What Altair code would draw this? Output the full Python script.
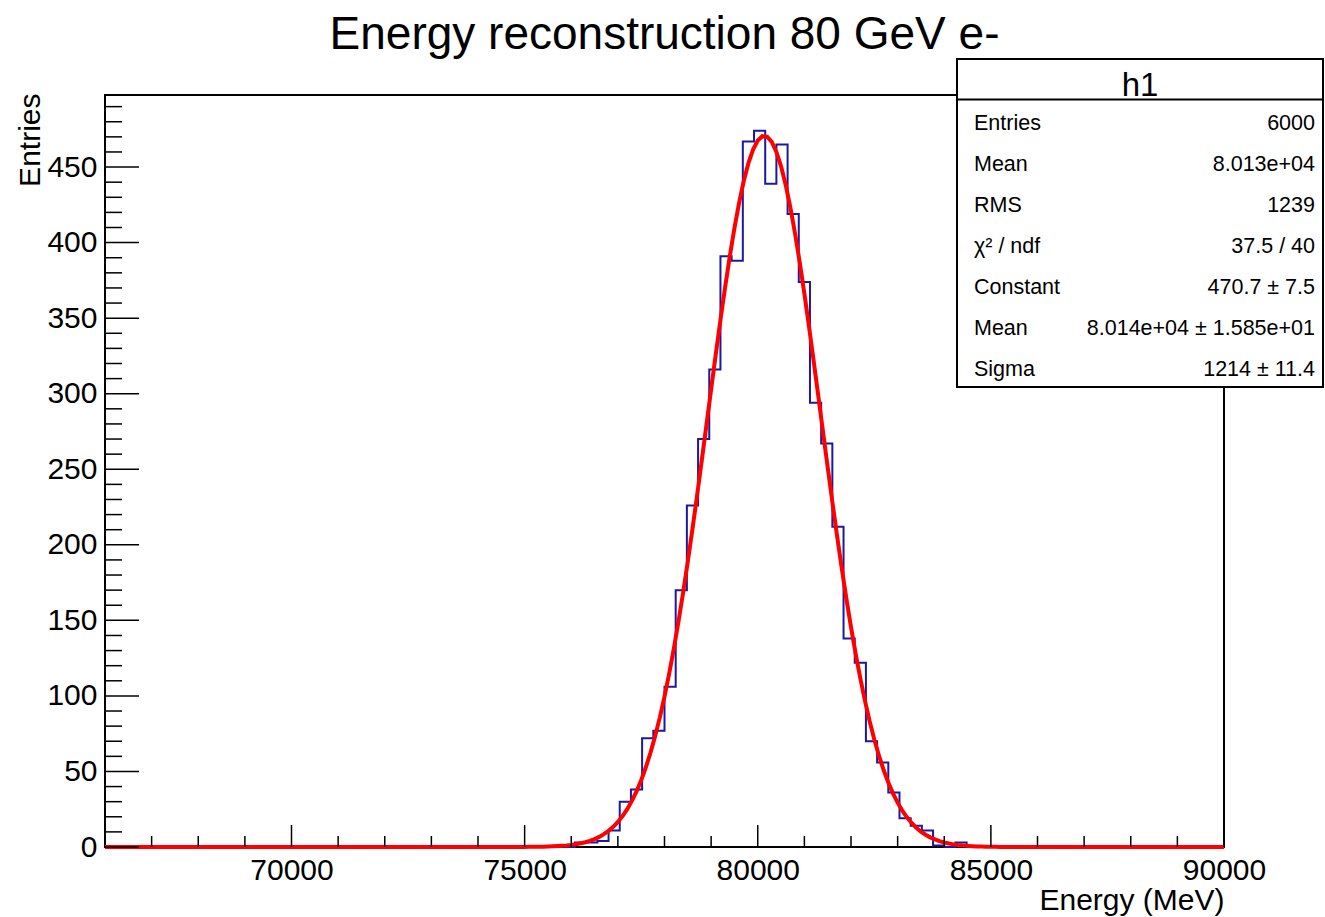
import altair as alt
import numpy as np
import pandas as pd

# ---------------- data ----------------
x_min, x_max = 66000, 90000          # axis range (MeV)
bin_width = 240                      # 100 bins over the range
first_bin_left = 76080               # left edge of first non-empty bin
counts = [3, 3, 4, 11, 30, 38, 72, 77, 106, 170, 226, 270, 316, 391, 388,
          467, 474, 439, 465, 419, 374, 294, 267, 212, 138, 122, 70, 56,
          36, 19, 14, 11, 1, 0, 3]
y_max = 497.7

# Gaussian fit parameters shown in the stats box
fit_constant = 470.7
fit_mean = 80140.0
fit_sigma = 1214.0

stat_labels = ["Entries", "Mean", "RMS", "χ² / ndf", "Constant", "Mean", "Sigma"]
stat_values = ["6000", "8.013e+04", "1239", "37.5 / 40", "470.7 ± 7.5",
               "8.014e+04 ± 1.585e+01", "1214 ± 11.4"]

y_major = [0, 50, 100, 150, 200, 250, 300, 350, 400, 450]
y_minor = [v for v in range(10, 500, 10) if v % 50 != 0]
x_major = [70000, 75000, 80000, 85000, 90000]
x_minor = [v for v in range(67000, 90000, 1000) if v % 5000 != 0]

title_text = "Energy reconstruction 80 GeV e-"
x_title = "Energy (MeV)"
y_title = "Entries"

# ---------------- build tables ----------------
n_bins = (x_max - x_min) // bin_width
n_before = (first_bin_left - x_min) // bin_width
full = [0] * n_before + counts + [0] * (n_bins - n_before - len(counts))
edges = [x_min + i * bin_width for i in range(n_bins + 1)]
hist_df = pd.DataFrame({"energy": edges, "entries": full + [full[-1]]})

fit_x = np.linspace(x_min, x_max, 241)
fit_df = pd.DataFrame({
    "energy": fit_x,
    "entries": fit_constant * np.exp(-0.5 * ((fit_x - fit_mean) / fit_sigma) ** 2),
})

W, H = 1119, 752
FONT = "Liberation Sans"

xscale = alt.Scale(domain=[x_min, x_max], nice=False, zero=False)
yscale = alt.Scale(domain=[0, y_max], nice=False, zero=True)

hist = alt.Chart(hist_df).mark_line(
    interpolate="step-after", color="#1a1aa0", strokeWidth=2
).encode(
    x=alt.X("energy:Q", scale=xscale, axis=alt.Axis(
        values=x_major, format="d", ticks=False, domain=False, grid=False,
        labelFont=FONT, labelFontSize=30, labelColor="black", labelPadding=8,
        labelFlush=False, labelOverlap=False,
        title=x_title, titleFont=FONT, titleFontSize=30, titleFontWeight="normal",
        titleColor="black", titleAlign="right", titleBaseline="alphabetic",
        titleX=W, titleY=62)),
    y=alt.Y("entries:Q", scale=yscale, axis=alt.Axis(
        values=y_major, format="d", ticks=False, domain=False, grid=False,
        labelFont=FONT, labelFontSize=30, labelColor="black", labelPadding=8,
        labelOverlap=False, labelFlush=False,
        title=y_title, titleFont=FONT, titleFontSize=30, titleFontWeight="normal",
        titleColor="black", titleAngle=270, titleAlign="right",
        titleBaseline="alphabetic", titleX=-66, titleY=-2)),
)

fit = alt.Chart(fit_df).mark_line(color="#ff0000", strokeWidth=4).encode(
    x=alt.X("energy:Q", scale=xscale),
    y=alt.Y("entries:Q", scale=yscale),
)

tick_style = dict(color="black", strokeWidth=1.5)
y_major_ticks = alt.Chart(pd.DataFrame({"v": y_major})).mark_rule(**tick_style).encode(
    y=alt.Y("v:Q", scale=yscale), x=alt.value(0), x2=alt.value(34))
y_minor_ticks = alt.Chart(pd.DataFrame({"v": y_minor})).mark_rule(**tick_style).encode(
    y=alt.Y("v:Q", scale=yscale), x=alt.value(0), x2=alt.value(17))
x_major_ticks = alt.Chart(pd.DataFrame({"v": x_major})).mark_rule(**tick_style).encode(
    x=alt.X("v:Q", scale=xscale), y=alt.value(H), y2=alt.value(H - 22))
x_minor_ticks = alt.Chart(pd.DataFrame({"v": x_minor})).mark_rule(**tick_style).encode(
    x=alt.X("v:Q", scale=xscale), y=alt.value(H), y2=alt.value(H - 11))

one = pd.DataFrame({"a": [0]})

title_mark = alt.Chart(one).mark_text(
    font=FONT, fontSize=46, align="center", baseline="alphabetic", color="black"
).encode(x=alt.value(W / 2), y=alt.value(-46), text=alt.value(title_text))

# stats box
bx0, bx1, by0, by1 = 852, 1218, -36, 292
box = alt.Chart(one).mark_rect(fill="white", stroke="black", strokeWidth=2).encode(
    x=alt.value(bx0), x2=alt.value(bx1), y=alt.value(by0), y2=alt.value(by1))
header_line = alt.Chart(one).mark_rule(color="black", strokeWidth=2).encode(
    x=alt.value(bx0), x2=alt.value(bx1), y=alt.value(4.5))
header = alt.Chart(one).mark_text(
    font=FONT, fontSize=33, align="center", baseline="alphabetic", color="black"
).encode(x=alt.value((bx0 + bx1) / 2), y=alt.value(1), text=alt.value("h1"))

stat_layers = []
for i, (lab, val) in enumerate(zip(stat_labels, stat_values)):
    yy = 34.5 + 41 * i
    stat_layers.append(alt.Chart(one).mark_text(
        font=FONT, fontSize=21.5, align="left", baseline="alphabetic", color="black"
    ).encode(x=alt.value(869), y=alt.value(yy), text=alt.value(lab)))
    stat_layers.append(alt.Chart(one).mark_text(
        font=FONT, fontSize=21.5, align="right", baseline="alphabetic", color="black"
    ).encode(x=alt.value(1210), y=alt.value(yy), text=alt.value(val)))

chart = alt.layer(
    hist, fit,
    y_major_ticks, y_minor_ticks, x_major_ticks, x_minor_ticks,
    title_mark, box, header_line, header, *stat_layers
).properties(
    width=W, height=H,
    autosize=alt.AutoSizeParams(type="none"),
    padding={"left": 105, "top": 95, "right": 101, "bottom": 70},
    background="white",
).configure_view(stroke="black", strokeWidth=2)

chart.save("out.html", embed_options={"renderer": "svg", "actions": False})
